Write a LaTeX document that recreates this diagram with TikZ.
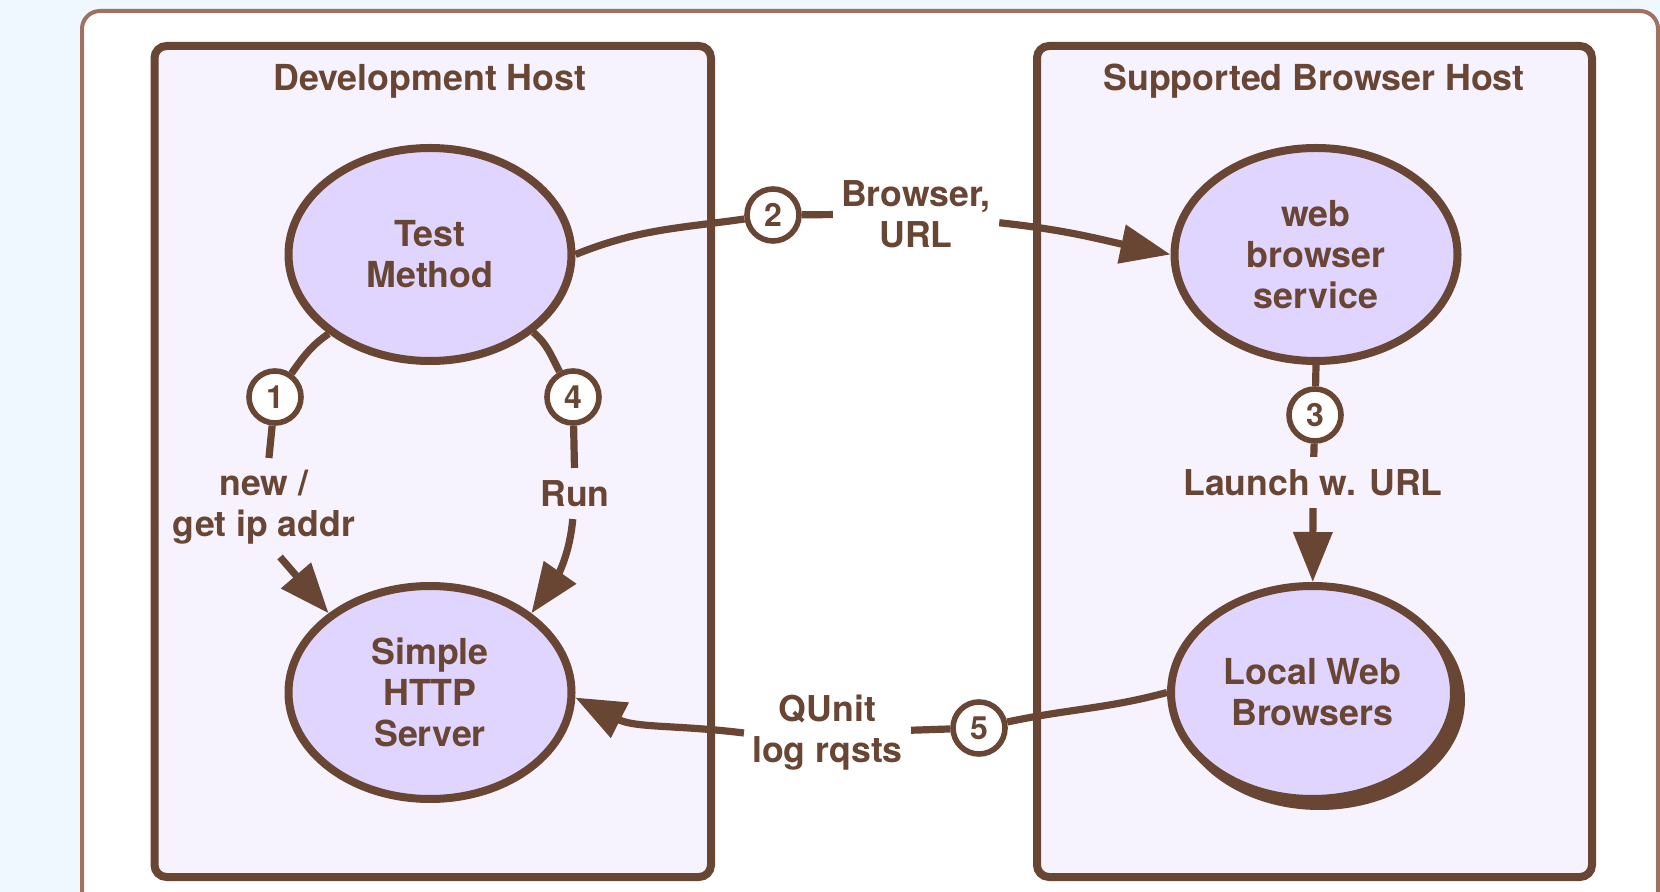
\documentclass[tikz,border=0pt]{standalone}
\usepackage{fontspec}
\setmainfont{TeX Gyre Heros}
\usetikzlibrary{shapes.geometric,arrows.meta}
\definecolor{brn}{HTML}{694533}
\definecolor{cardb}{HTML}{A07060}
\definecolor{bgblue}{HTML}{F0F8FF}
\definecolor{hostfill}{HTML}{F6F3FF}
\definecolor{ellfill}{HTML}{E0D5FF}
\tikzset{
  hostbox/.style={draw=brn, line width=4pt, fill=hostfill, rounded corners=6pt},
  ell/.style={ellipse, draw=brn, line width=4pt, fill=ellfill, minimum width=141.5pt,
    minimum height=106.5pt, inner sep=0pt, text=brn,
    font=\fontsize{17.9}{20.5}\selectfont\bfseries, align=center},
  shadowell/.style={ellipse, draw=brn, line width=4pt, fill=brn, minimum width=141.5pt,
    minimum height=106.5pt, inner sep=0pt},
  num/.style={circle, draw=brn, line width=2.8pt, fill=white, minimum size=26pt,
    inner sep=0pt, text=brn, font=\fontsize{16}{16}\selectfont\bfseries},
  lab/.style={text=brn, font=\fontsize{17.8}{20.5}\selectfont\bfseries, align=center,
    inner xsep=4pt, inner ysep=6pt},
  ttl/.style={text=brn, font=\fontsize{17.9}{20}\selectfont\bfseries, anchor=base, inner sep=0pt},
  conn/.style={draw=brn, line width=3.6pt},
  arr/.style={conn, -{Triangle[length=25pt, width=19pt]}}
}
\begin{document}
\begin{tikzpicture}[x=0.5pt,y=0.5pt]
\path[use as bounding box] (0,0) rectangle (1660,-892);
\clip (0,0) rectangle (1660,-892);
\fill[bgblue] (0,0) rectangle (1660,-892);
% outer card
\draw[cardb, line width=2pt, fill=white, rounded corners=9pt] (82,-11) rectangle (1658,-980);
% host boxes
\draw[hostbox] (154.5,-46) rectangle (711,-877);
\draw[hostbox] (1037,-46) rectangle (1592,-877);
\node[ttl] (t1) at (430,-91) {Development Host};
\node[ttl] (t2) at (1314,-91) {Supported Browser Host};
% ellipses
\node[ell] (TM) at (430,-254.5) {Test\\Method};
\node[ell] (SHS) at (430,-692.5) {Simple\\HTTP\\Server};
\node[ell] (WBS) at (1316,-254.5) {web\\browser\\service};
\node[shadowell] (LWBs) at (1319.5,-699.5) {};
\node[ell] (LWB) at (1312.5,-692.5) {Local Web\\Browsers};
% numbered circles
\node[num] (c1) at (275,-397) {1};
\node[num] (c2) at (773,-215) {2};
\node[num] (c3) at (1315,-415) {3};
\node[num] (c4) at (573,-397) {4};
\node[num] (c5) at (979,-728) {5};
% labels
\node[lab] (lab1) at (264,-507.5) {new /\\get ip addr};
\node[lab] (lab2) at (916,-214) {Browser,\\URL};
\node[lab] (lab3) at (1313,-482.5) {Launch w. URL};
\node[lab] (lab4) at (575,-493.5) {Run};
\node[lab] (lab5) at (827.5,-733) {QUnit\\log rqsts};
% connector 1
\draw[conn] (TM.218) to[out=215, in=55] (c1);
\draw[conn] (c1) -- (lab1);
\draw[arr] (lab1.-72) -- (SHS.142);
% connector 2
\draw[conn] (TM.east) to[out=22, in=188] (c2);
\draw[conn] (c2) -- (lab2);
\draw[arr] (lab2.-6) to[out=-6, in=168] (WBS.west);
% connector 3
\draw[conn] (WBS.south) -- (c3);
\draw[conn] (c3) -- (lab3);
\draw[arr] (lab3) -- (LWB);
% connector 4
\draw[conn] (TM.-37) to[out=-40, in=118] (c4);
\draw[conn] (c4) -- (lab4);
\draw[arr] (lab4) to[out=-95, in=55] (SHS.38);
% connector 5
\draw[conn] (LWB.west) to[out=195, in=12] (c5);
\draw[conn] (c5) -- (lab5);
\draw[arr] (lab5.west) to[out=173, in=-27] (SHS.-2);
\end{tikzpicture}
\end{document}
